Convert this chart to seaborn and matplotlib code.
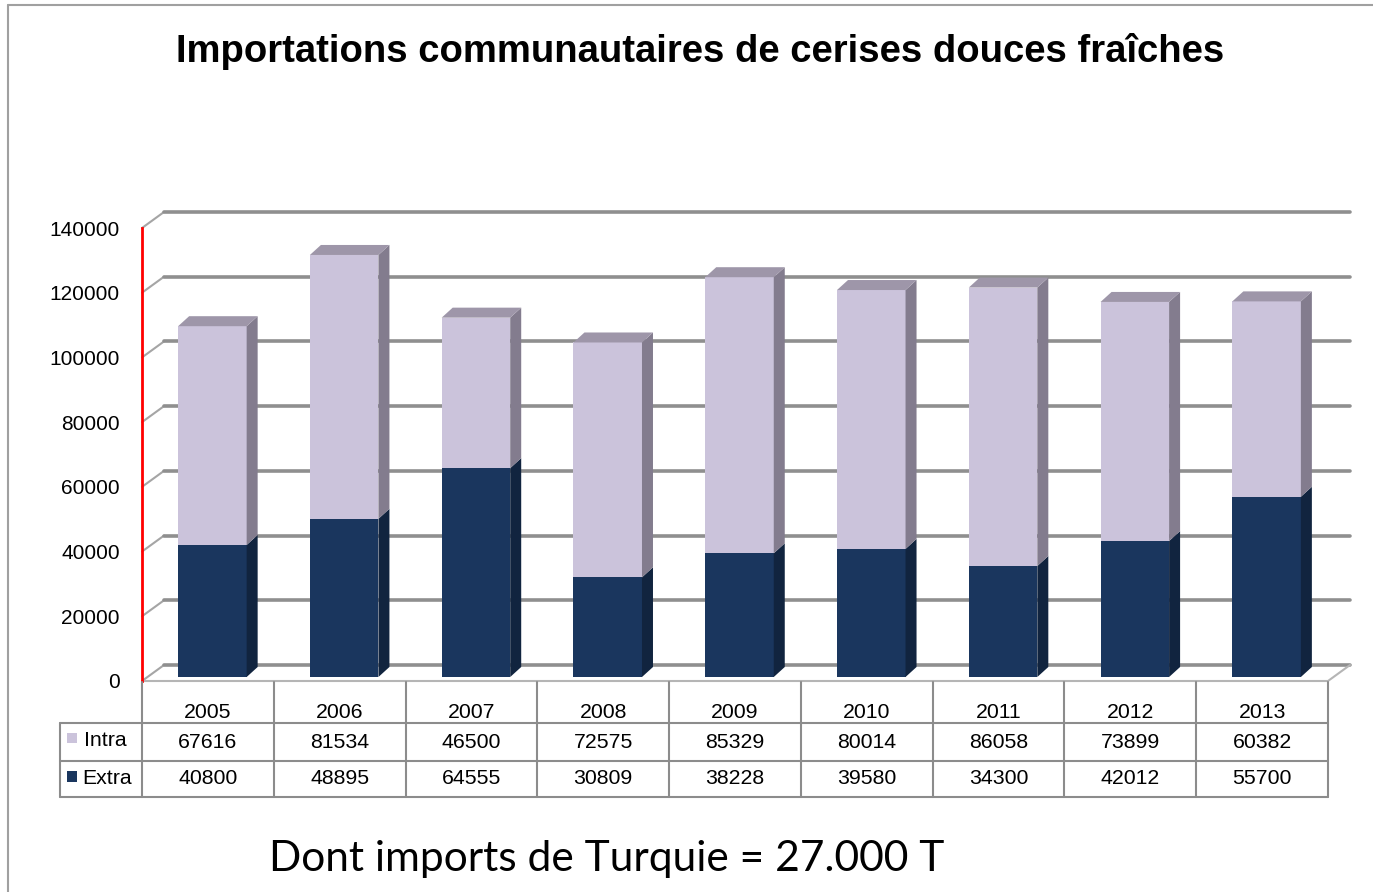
import numpy as np
import pandas as pd
import matplotlib.pyplot as plt
import seaborn as sns
from matplotlib.patches import Polygon, Rectangle
from matplotlib.lines import Line2D
from matplotlib.transforms import blended_transform_factory

years = ['2005', '2006', '2007', '2008', '2009', '2010', '2011', '2012', '2013']
intra = [67616, 81534, 46500, 72575, 85329, 80014, 86058, 73899, 60382]
extra = [40800, 48895, 64555, 30809, 38228, 39580, 34300, 42012, 55700]
y_ticks = [0, 20000, 40000, 60000, 80000, 100000, 120000, 140000]

df = pd.DataFrame({'annee': years, 'intra': intra, 'extra': extra})
df['total'] = df['intra'] + df['extra']

intra_col = '#CBC3DB'
intra_side = '#837C8E'
intra_top = '#9E96A9'
extra_col = '#1A365E'
extra_side = '#11243F'
grid_col = '#8f8f8f'

sns.set_style('white')
plt.rcParams['font.family'] = ['Liberation Sans', 'DejaVu Sans']
plt.rcParams['text.color'] = 'black'
plt.rcParams['ytick.color'] = 'black'
plt.rcParams['ytick.labelcolor'] = 'black'

W, H = 1373, 892
fig = plt.figure(figsize=(W / 100, H / 100), dpi=100)


def fx(px):
    return px / W


def fy(py):
    return 1 - py / H


# plot area (front plane) in pixels
x_left, x_right, y_zero, y_top = 142, 1328, 681, 228
ax = fig.add_axes([fx(x_left), fy(y_zero), fx(x_right) - fx(x_left), fy(y_top) - fy(y_zero)])

n = len(years)
ux = (x_right - x_left) / n          # px per category
uy = (y_zero - y_top) / 140000       # px per unit

# 3d offsets in data units
gdx, gdy = 22 / ux, 16 / uy          # back wall
bdx, bdy = 4.5 / ux, 4 / uy          # bar front plane
ddx, ddy = 11 / ux, 10 / uy          # bar depth
bw = 0.52

sns.barplot(data=df, x='annee', y='total', color=intra_col, saturation=1, width=bw, ax=ax, zorder=3)
sns.barplot(data=df, x='annee', y='extra', color=extra_col, saturation=1, width=bw, ax=ax, zorder=3)
for p in ax.patches:
    p.set_x(p.get_x() + bdx)
    p.set_y(p.get_y() + bdy)
    p.set_linewidth(0)

for i, (e, t) in enumerate(zip(df['extra'], df['total'])):
    x0 = i - bw / 2 + bdx
    x1 = i + bw / 2 + bdx
    ax.add_patch(Polygon([(x1, bdy), (x1, e + bdy), (x1 + ddx, e + bdy + ddy), (x1 + ddx, bdy + ddy)],
                         closed=True, facecolor=extra_side, lw=0, zorder=3.5, clip_on=False))
    ax.add_patch(Polygon([(x1, e + bdy), (x1, t + bdy), (x1 + ddx, t + bdy + ddy), (x1 + ddx, e + bdy + ddy)],
                         closed=True, facecolor=intra_side, lw=0, zorder=3.5, clip_on=False))
    ax.add_patch(Polygon([(x0, t + bdy), (x1, t + bdy), (x1 + ddx, t + bdy + ddy), (x0 + ddx, t + bdy + ddy)],
                         closed=True, facecolor=intra_top, lw=0, zorder=3.5, clip_on=False))

# gridlines on the back wall + slanted side wall segments
for v in y_ticks:
    ax.plot([-0.5, -0.5 + gdx], [v, v + gdy], color='#a5a5a5', lw=1.5, zorder=1, clip_on=False)
    ax.plot([-0.5 + gdx, n - 0.5 + gdx], [v + gdy, v + gdy], color=grid_col, lw=2.6, zorder=1, clip_on=False)
# floor front edge
ax.plot([-0.5, n - 0.5, n - 0.5 + gdx], [0, 0, gdy], color='#b5b5b5', lw=1.5, zorder=1, clip_on=False)

ax.set_xlim(-0.5, n - 0.5)
ax.set_ylim(0, 140000)
ax.set_xticks([])
ax.set_yticks(y_ticks)
ax.set_yticklabels([str(v) for v in y_ticks])
ax.tick_params(axis='y', length=0, pad=16, labelsize=15, labelcolor='black')
ax.set_xlabel('')
ax.set_ylabel('')
for s in ['top', 'right', 'bottom']:
    ax.spines[s].set_visible(False)
ax.spines['left'].set_color('red')
ax.spines['left'].set_linewidth(2)

# data table under the chart
tr = blended_transform_factory(ax.transData, fig.transFigure)
tcol = '#8c8c8c'
fs = 15.3
for k in range(n + 1):
    xb = k - 0.5
    fig.add_artist(Line2D([xb, xb], [fy(682), fy(797)], transform=tr, color=tcol, lw=1.5))
for yy in [723, 761, 797]:
    fig.add_artist(Line2D([fx(60), fx(x_right)], [fy(yy), fy(yy)], color=tcol, lw=1.5))
fig.add_artist(Line2D([fx(60), fx(60)], [fy(723), fy(797)], color=tcol, lw=1.5))

for i, y in enumerate(years):
    fig.text(i, fy(712), y, transform=tr, ha='center', va='center', fontsize=fs)
    fig.text(i, fy(742), str(intra[i]), transform=tr, ha='center', va='center', fontsize=fs)
    fig.text(i, fy(779), str(extra[i]), transform=tr, ha='center', va='center', fontsize=fs)

fig.add_artist(Rectangle((fx(67), fy(743)), fx(10), 10 / H, facecolor=intra_col, lw=0))
fig.add_artist(Rectangle((fx(67), fy(782)), fx(10), 11 / H, facecolor=extra_col, lw=0))
fig.text(fx(84), fy(741), 'Intra', ha='left', va='center', fontsize=fs)
fig.text(fx(82), fy(778), 'Extra', ha='left', va='center', fontsize=fs)

fig.text(fx(700), fy(51), 'Importations communautaires de cerises douces fraîches',
         ha='center', va='center', fontsize=27.5, fontweight='bold')
fig.text(fx(607), fy(859), 'Dont imports de Turquie = 27.000 T',
         ha='center', va='center', fontsize=30.6, family='Lato')

# outer frame
fig.add_artist(Line2D([fx(8), 1], [fy(5), fy(5)], color='#a0a0a0', lw=1.5))
fig.add_artist(Line2D([fx(8), fx(8)], [fy(5), 0], color='#a0a0a0', lw=1.5))

fig.savefig('out.png', dpi=100)
